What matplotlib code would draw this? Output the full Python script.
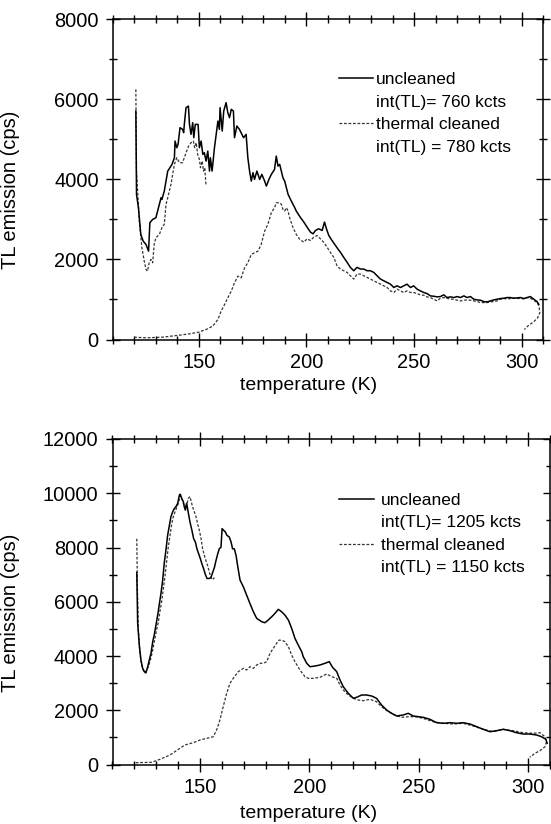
import matplotlib
matplotlib.use("Agg")
import matplotlib.pyplot as plt
from matplotlib.lines import Line2D
from matplotlib.ticker import MultipleLocator, FixedLocator

plt.rcParams['font.family'] = ['Liberation Sans', 'DejaVu Sans']

# ---------------- top panel data ----------------
top_unc_T = [120.8, 121.1, 122.0, 123.1, 124.2, 125.5, 126.7, 127.3, 128.6, 130.1, 130.9, 131.7,
             132.5, 132.9, 134.0, 134.8, 135.6, 136.6, 137.6, 138.7, 139.0, 139.8, 140.4, 141.3,
             142.5, 143.0, 143.3, 144.1, 145.2, 145.7, 146.4, 147.2, 147.7, 148.4, 149.7, 150.3,
             151.1, 151.9, 152.6, 153.4, 154.2, 155.0, 155.4, 156.2, 156.8, 157.3, 158.1, 158.9,
             159.6, 159.9, 160.9, 161.6, 162.7, 163.5, 164.3, 165.1, 166.1, 166.6, 167.7, 168.9,
             170.8, 172.0, 172.8, 173.6, 174.4, 175.2, 175.9, 177.0, 178.3, 179.3, 180.6, 181.4,
             182.6, 183.7, 185.2, 186.0, 186.8, 187.6, 189.1, 189.9, 191.5, 193.0, 194.6, 195.3,
             197.2, 198.8, 200.3, 201.9, 203.1, 204.2, 205.7, 207.3, 208.4, 209.3, 210.4, 211.9,
             213.5, 214.6, 215.8, 217.3, 218.9, 220.4, 222.0, 223.5, 225.1, 226.6, 228.2, 229.7,
             231.3, 232.8, 234.4, 235.9, 237.5, 239.0, 240.6, 242.1, 243.7, 245.2, 246.7, 248.3,
             249.8, 251.4, 252.9, 254.5, 256.0, 257.6, 259.1, 260.7, 262.2, 263.8, 265.3, 266.9,
             268.4, 270.0, 271.5, 273.1, 274.6, 276.2, 277.7, 279.3, 280.8, 282.4, 283.9, 285.4,
             287.0, 288.5, 290.1, 291.6, 293.2, 294.7, 296.3, 297.8, 299.4, 300.9, 302.5, 304.0,
             305.6, 307.1, 307.9]
top_unc_I = [5708, 3625, 3292, 2625, 2458, 2375, 2208, 2917, 3000, 3042, 3208, 3375,
             3542, 3500, 3708, 3958, 4208, 4292, 4375, 4542, 4958, 4792, 4875, 5292,
             5250, 5167, 5375, 5792, 5833, 5375, 5125, 5417, 5042, 5375, 5375, 4792,
             4958, 4625, 4667, 4458, 4708, 4208, 4542, 4208, 4542, 4792, 5125, 5458,
             5250, 5792, 5208, 5708, 5917, 5667, 5542, 5750, 5708, 5042, 5333, 5250,
             5042, 5125, 4542, 4208, 3958, 4167, 4000, 4208, 4000, 4125, 3958, 3833,
             4000, 4125, 4250, 4583, 4333, 4375, 4042, 3958, 3625, 3458, 3292, 3208,
             3050, 2934, 2808, 2682, 2640, 2724, 2766, 2724, 2934, 2766, 2598, 2473,
             2347, 2263, 2179, 2054, 1928, 1802, 1718, 1802, 1760, 1760, 1718, 1718,
             1676, 1593, 1509, 1467, 1425, 1383, 1299, 1341, 1299, 1341, 1383, 1299,
             1341, 1257, 1215, 1174, 1148, 1090, 1081, 1065, 1073, 1115, 1048, 1065,
             1048, 1073, 1048, 1090, 1048, 1073, 1006, 989, 981, 947, 939, 964,
             989, 1006, 1023, 1031, 1048, 1048, 1031, 1039, 1048, 1023, 1048, 1073,
             1006, 947, 880]

# thermal cleaned, first (partial) run
top_cl1_T = [120.8, 121.1, 122.4, 123.6, 124.7, 125.5, 126.2, 127.0, 127.8, 128.6, 129.3, 130.1,
             131.7, 133.2, 134.0, 134.8, 135.6, 137.1, 138.7, 139.8, 141.0, 142.5, 143.3, 144.4,
             145.3, 146.4, 147.5, 148.1, 148.8, 149.5, 150.3, 150.8, 151.6, 152.2, 152.8, 153.4]
top_cl1_I = [6250, 4208, 2958, 2292, 1958, 1750, 1708, 1917, 2000, 1917, 2375, 2542,
             2625, 2833, 2875, 3375, 3542, 3875, 4375, 4542, 4417, 4417, 4542, 4708,
             4833, 4917, 4958, 4792, 4917, 4625, 4500, 4292, 4458, 4208, 4292, 3833]

# thermal cleaned, second run
top_cl2_T = [120.0, 125.5, 133.2, 141.0, 145.7, 150.0, 153.4, 156.5, 158.9, 160.4, 162.0, 163.5,
             165.1, 166.6, 168.2, 169.7, 171.3, 172.8, 174.4, 175.9, 177.5, 179.0, 180.6, 182.1,
             183.7, 185.2, 186.0, 187.6, 188.4, 189.1, 189.9, 190.7, 191.5, 192.2, 193.8, 195.3,
             196.9, 198.8, 200.3, 201.9, 203.4, 205.0, 206.5, 208.0, 209.6, 211.1, 212.7, 214.2,
             215.8, 217.3, 218.9, 220.4, 222.0, 223.5, 225.1, 226.6, 228.2, 229.7, 231.3, 232.8,
             234.4, 235.9, 237.5, 239.0, 240.6, 242.1, 243.7, 245.2, 246.7, 248.3, 249.8, 251.4,
             252.9, 254.5, 256.0, 257.6, 259.1, 260.7, 262.2, 263.8, 265.3, 266.9, 268.4, 270.0,
             271.5, 273.1, 274.6, 276.2, 277.7, 279.3, 280.8, 282.4, 283.9, 285.4, 287.0, 288.5,
             290.1, 291.6, 293.2, 294.7, 296.3, 297.8, 299.4, 300.9, 302.5, 304.0, 305.6, 307.1,
             308.0, 308.4, 307.4, 305.6, 303.3, 301.2]
top_cl2_I = [58, 42, 58, 108, 142, 183, 250, 333, 500, 708, 875, 1042,
             1208, 1417, 1583, 1542, 1792, 1917, 2125, 2167, 2208, 2375, 2708, 2875,
             3167, 3292, 3417, 3417, 3375, 3250, 3208, 3292, 3208, 3042, 2792, 2625,
             2500, 2431, 2515, 2473, 2557, 2598, 2515, 2431, 2305, 2179, 2054, 1844,
             1760, 1718, 1676, 1593, 1509, 1635, 1635, 1593, 1551, 1509, 1467, 1425,
             1383, 1341, 1299, 1215, 1174, 1257, 1215, 1174, 1215, 1174, 1174, 1148,
             1115, 1106, 1065, 1048, 1006, 964, 1031, 1048, 1031, 1006, 1006, 981,
             964, 981, 989, 981, 964, 947, 922, 922, 922, 939, 947, 964,
             1006, 1023, 1014, 1023, 1031, 1023, 1031, 1014, 1048, 1031, 981, 922,
             838, 671, 545, 444, 360, 251]

# ---------------- bottom panel data ----------------
bot_unc_T = [121.1, 121.5, 122.3, 123.0, 123.8, 124.6, 125.3, 126.1, 126.8, 127.6, 128.4, 129.1,
             129.9, 130.7, 131.4, 132.2, 132.9, 133.7, 134.5, 135.2, 136.0, 136.7, 137.5, 138.3,
             139.0, 139.8, 140.6, 141.0, 141.6, 142.4, 142.8, 143.3, 143.9, 144.7, 145.4, 146.3,
             147.1, 147.9, 148.6, 149.4, 150.2, 150.9, 151.7, 152.4, 153.2, 154.3, 155.0, 155.8,
             156.6, 157.3, 158.1, 158.8, 159.6, 160.1, 160.8, 161.6, 162.3, 163.4, 164.2, 164.9,
             165.7, 166.5, 167.2, 168.3, 169.8, 171.3, 172.8, 174.4, 175.9, 178.2, 179.7, 181.2,
             182.8, 184.3, 185.8, 187.3, 188.8, 190.4, 191.9, 193.4, 194.9, 196.5, 197.2, 198.8,
             200.3, 202.6, 204.8, 207.1, 209.1, 210.6, 212.5, 214.0, 215.5, 217.8, 220.1, 221.6,
             223.9, 226.2, 228.5, 230.7, 233.0, 235.3, 237.6, 239.9, 242.9, 245.2, 247.5, 249.8,
             252.0, 255.1, 258.2, 261.2, 264.3, 267.3, 270.3, 273.4, 276.5, 279.5, 282.5, 285.6,
             288.6, 291.7, 294.7, 297.7, 300.8, 303.9, 306.1, 308.1, 308.7]
bot_unc_I = [7081, 5218, 4349, 3852, 3542, 3417, 3380, 3604, 3852, 4100, 4535, 4784,
             5156, 5529, 5901, 6336, 6771, 7454, 7951, 8448, 8820, 9131, 9317, 9441,
             9503, 9627, 9938, 9963, 9814, 9690, 9503, 9379, 9627, 9255, 8944, 8634,
             8323, 8199, 7951, 7764, 7578, 7392, 7206, 7019, 6858, 6858, 6895, 7081,
             7268, 7516, 7764, 7951, 8013, 8696, 8634, 8572, 8448, 8385, 8199, 7951,
             7951, 7702, 7330, 6800, 6554, 6248, 5942, 5632, 5389, 5264, 5227, 5326,
             5448, 5573, 5721, 5632, 5511, 5326, 5020, 4652, 4405, 4158, 3974, 3730,
             3605, 3631, 3668, 3730, 3791, 3583, 3422, 3115, 2868, 2624, 2440, 2477,
             2562, 2562, 2525, 2440, 2193, 2009, 1887, 1788, 1825, 1887, 1788, 1762,
             1740, 1666, 1541, 1519, 1541, 1519, 1541, 1493, 1393, 1297, 1209, 1246,
             1297, 1246, 1172, 1124, 1124, 1087, 1026, 929, 782]

bot_cl1_T = [121.1, 121.4, 121.8, 122.6, 123.3, 124.1, 124.9, 125.6, 126.4, 127.1, 127.9, 128.7,
             129.4, 130.2, 131.0, 131.7, 132.5, 133.2, 134.0, 134.8, 135.5, 136.3, 137.1, 137.8,
             138.6, 139.3, 140.1, 140.9, 141.6, 142.4, 143.1, 143.9, 144.7, 145.4, 146.6, 148.2,
             148.9, 149.7, 150.5, 151.2, 152.0, 152.7, 153.5, 154.3, 155.0, 155.8, 156.6]
bot_cl1_I = [8323, 6460, 4970, 4100, 3666, 3479, 3380, 3479, 3604, 3790, 4038, 4349,
             4659, 4970, 5280, 5653, 6026, 6460, 6957, 7516, 8013, 8448, 8882, 9131,
             9317, 9466, 9627, 9913, 9814, 9627, 9503, 9565, 9814, 9876, 9503, 9131,
             8882, 8634, 8323, 7951, 7702, 7516, 7330, 7081, 6895, 6808, 6895]

bot_cl2_T = [120.6, 127.9, 131.7, 136.3, 140.8, 143.1, 146.9, 150.0, 153.1, 156.1, 157.6, 159.1,
             160.6, 162.2, 163.7, 165.2, 167.5, 169.8, 171.3, 172.8, 174.4, 175.9, 177.4, 178.9,
             180.5, 182.0, 183.5, 185.0, 186.2, 187.8, 188.8, 190.4, 191.9, 193.4, 195.7, 198.0,
             199.5, 201.8, 204.8, 207.9, 210.2, 212.5, 214.0, 215.5, 217.8, 220.1, 222.3, 224.6,
             227.7, 230.7, 233.0, 236.1, 239.1, 242.2, 245.2, 248.3, 252.0, 256.6, 261.2, 265.8,
             270.3, 274.9, 279.5, 284.0, 288.6, 293.2, 297.7, 302.3, 305.4, 307.7, 308.4, 307.7,
             305.4, 303.1, 300.8]
bot_cl2_I = [66, 81, 192, 350, 597, 719, 804, 903, 965, 1026, 1272, 1640,
             2131, 2624, 2993, 3177, 3422, 3545, 3483, 3605, 3545, 3668, 3730, 3730,
             3791, 4099, 4283, 4468, 4589, 4566, 4529, 4344, 4037, 3791, 3483, 3237,
             3177, 3177, 3214, 3336, 3237, 3177, 2930, 2746, 2562, 2440, 2377, 2352,
             2403, 2315, 2131, 1946, 1825, 1740, 1762, 1762, 1703, 1578, 1519, 1493,
             1519, 1419, 1297, 1209, 1297, 1246, 1172, 1150, 1172, 1026, 840, 656,
             509, 413, 265]

top_legend = ["uncleaned", "int(TL)= 760 kcts", "thermal cleaned", "int(TL) = 780 kcts"]
bot_legend = ["uncleaned", "int(TL)= 1205 kcts", "thermal cleaned", "int(TL) = 1150 kcts"]

solid_kw = dict(color='black', lw=1.1)
dash_kw = dict(color='#333333', lw=0.9, linestyle=(0, (2.2, 1.4)))

W, H = 551, 824
fig = plt.figure(figsize=(W / 100, H / 100), dpi=100)
ax1 = fig.add_axes([112.6 / W, 1 - 339.5 / H, 430.7 / W, 320.2 / H])
ax2 = fig.add_axes([112.5 / W, 1 - 764.5 / H, 437.5 / W, 325.5 / H])


def style(ax, ymax, labels, leg_xy, textpad):
    ax.set_xlim(110, 310)
    ax.set_ylim(0, ymax)
    ax.xaxis.set_major_locator(FixedLocator([150, 200, 250, 300]))
    ax.xaxis.set_minor_locator(MultipleLocator(10))
    ax.yaxis.set_major_locator(MultipleLocator(2000))
    ax.yaxis.set_minor_locator(MultipleLocator(1000))
    ax.tick_params(which='both', direction='inout', top=True, right=True,
                   width=1, labelsize=14.4, pad=5)
    ax.tick_params(which='major', length=10)
    ax.tick_params(which='minor', length=6)
    for s in ax.spines.values():
        s.set_linewidth(1.1)
    ax.set_xlabel("temperature (K)", fontsize=14)
    ax.set_ylabel("TL emission (cps)", fontsize=14.5)
    handles = [Line2D([], [], **solid_kw), Line2D([], [], lw=0),
               Line2D([], [], **dash_kw), Line2D([], [], lw=0)]
    ax.legend(handles, labels, loc='upper left', bbox_to_anchor=leg_xy, frameon=False,
              fontsize=12.5, handlelength=2.0, handletextpad=textpad, labelspacing=0.42,
              borderaxespad=0, borderpad=0)


ax1.plot(top_cl2_T, top_cl2_I, **dash_kw)
ax1.plot(top_cl1_T, top_cl1_I, **dash_kw)
ax1.plot(top_unc_T, top_unc_I, **solid_kw)
style(ax1, 8000, top_legend, (0.525, 0.835), 0.12)
ax1.xaxis.set_label_coords(0.454, -0.117)
ax1.yaxis.set_label_coords(-0.215, 0.467)

ax2.plot(bot_cl2_T, bot_cl2_I, **dash_kw)
ax2.plot(bot_cl1_T, bot_cl1_I, **dash_kw)
ax2.plot(bot_unc_T, bot_unc_I, **solid_kw)
style(ax2, 12000, bot_legend, (0.518, 0.835), 0.4)
ax2.xaxis.set_label_coords(0.447, -0.123)
ax2.yaxis.set_label_coords(-0.211, 0.465)

fig.savefig("out.png", dpi=100)
